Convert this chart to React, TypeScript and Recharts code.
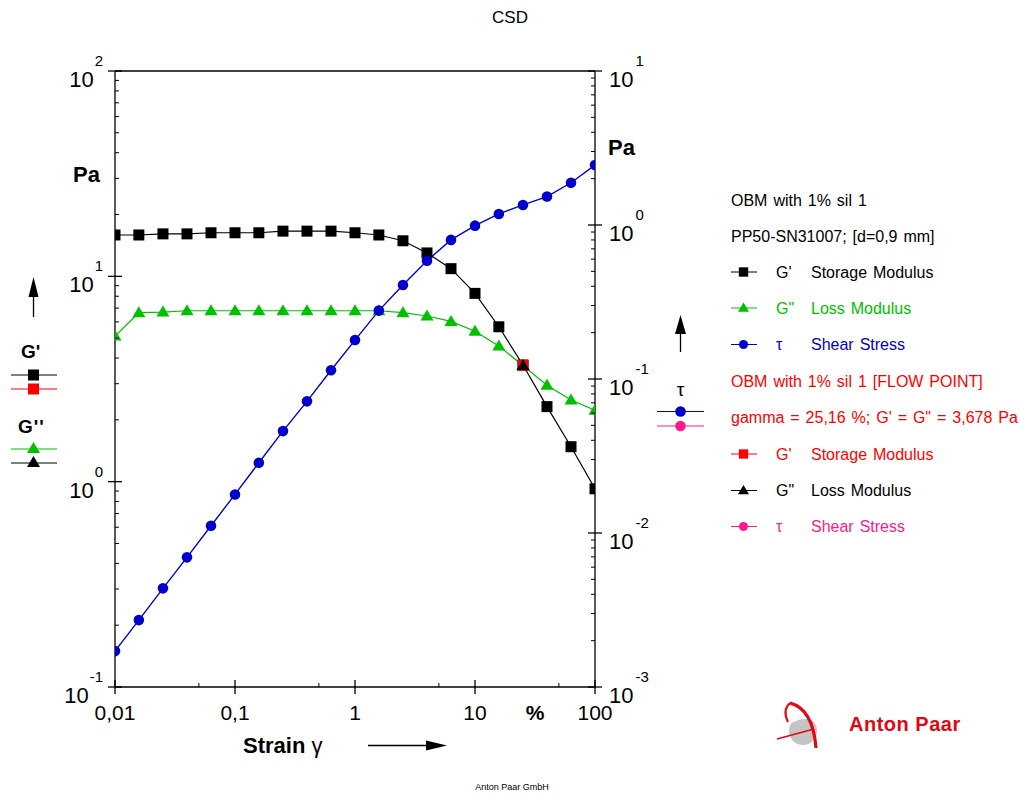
import React from 'react';
import { ComposedChart, Line, Scatter, XAxis, YAxis, ReferenceLine } from 'recharts';

const strain = [0.01, 0.0158, 0.0251, 0.0398, 0.0631, 0.1, 0.158, 0.251, 0.398, 0.631, 1, 1.58, 2.51, 3.98, 6.31, 10, 15.8, 25.1, 39.8, 63.1, 100];
const storageModulus = [15.9, 15.9, 16.1, 16.1, 16.3, 16.3, 16.3, 16.6, 16.6, 16.6, 16.3, 15.9, 14.9, 13.0, 10.9, 8.26, 5.68, 3.7, 2.32, 1.48, 0.923];
const lossModulus = [5.12, 6.65, 6.7, 6.8, 6.8, 6.8, 6.8, 6.8, 6.8, 6.8, 6.8, 6.8, 6.65, 6.41, 6.03, 5.4, 4.58, 3.68, 2.95, 2.5, 2.23];
const shearStress = [0.00171, 0.00272, 0.00437, 0.00695, 0.01115, 0.0178, 0.0286, 0.0459, 0.0716, 0.114, 0.179, 0.278, 0.408, 0.586, 0.8, 0.99, 1.18, 1.35, 1.53, 1.88, 2.45];

const flowStrain = [25.16];
const flowStorage = [3.678];
const flowLoss = [3.678];

const xTicks = [0.01, 0.05, 0.1, 0.5, 1, 5, 10, 50, 100];
const xTickLabels: Record<string, string> = { '0.01': '0,01', '0.1': '0,1', '1': '1', '10': '10', '100': '100' };
const leftTicks = [0.1, 0.2, 0.3, 0.4, 0.5, 0.6, 0.7, 0.8, 0.9, 1, 2, 3, 4, 5, 6, 7, 8, 9, 10, 20, 30, 40, 50, 60, 70, 80, 90, 100];
const rightTicks = [0.001, 0.002, 0.003, 0.004, 0.005, 0.006, 0.007, 0.008, 0.009, 0.01, 0.02, 0.03, 0.04, 0.05, 0.06, 0.07, 0.08, 0.09, 0.1, 0.2, 0.3, 0.4, 0.5, 0.6, 0.7, 0.8, 0.9, 1, 2, 3, 4, 5, 6, 7, 8, 9, 10];

const data = strain.map((s, i) => ({ strain: s, gp: storageModulus[i], gpp: lossModulus[i], tau: shearStress[i] }));
const flowGp = flowStrain.map((s, i) => ({ strain: s, v: flowStorage[i] }));
const flowGpp = flowStrain.map((s, i) => ({ strain: s, v: flowLoss[i] }));

const FONT = '"Liberation Sans", Arial, sans-serif';
const BLACK = '#000000';
const GREEN = '#00c000';
const BLUE = '#0000cc';
const RED = '#ff0000';
const PINK = '#ff1a8c';
const LOGO_RED = '#e30613';

const isMajor = (v: number) => Math.abs(Math.log10(v) - Math.round(Math.log10(v))) < 1e-6;

const LeftTick = (props: any) => {
  const { x, y, payload } = props;
  const v = payload.value;
  if (!isMajor(v)) return <line x1={x} x2={x + 4} y1={y} y2={y} stroke={BLACK} strokeWidth={1} />;
  const e = Math.round(Math.log10(v));
  return (
    <g>
      <line x1={x - 7} x2={x + 7} y1={y} y2={y} stroke={BLACK} strokeWidth={1.3} />
      <text x={x - 12} y={y + 16} textAnchor="end" fontFamily={FONT} fontSize={22} fill={BLACK}>
        10<tspan dy={-21} dx={1} fontSize={15}>{e}</tspan>
      </text>
    </g>
  );
};

const RightTick = (props: any) => {
  const { x, y, payload } = props;
  const v = payload.value;
  if (!isMajor(v)) return <line x1={x - 4} x2={x} y1={y} y2={y} stroke={BLACK} strokeWidth={1} />;
  const e = Math.round(Math.log10(v));
  return (
    <g>
      <line x1={x - 7} x2={x + 7} y1={y} y2={y} stroke={BLACK} strokeWidth={1.3} />
      <text x={x + 14} y={y + 16} textAnchor="start" fontFamily={FONT} fontSize={22} fill={BLACK}>
        10<tspan dy={-21} dx={2} fontSize={15}>{e}</tspan>
      </text>
    </g>
  );
};

const BottomTick = (props: any) => {
  const { x, y, payload } = props;
  const v = payload.value;
  if (!isMajor(v)) return <line x1={x} x2={x} y1={y - 4} y2={y} stroke={BLACK} strokeWidth={1} />;
  const label = xTickLabels[String(v)];
  return (
    <g>
      <line x1={x} x2={x} y1={y - 7} y2={y + 7} stroke={BLACK} strokeWidth={1.3} />
      <text x={x} y={y + 33} textAnchor="middle" fontFamily={FONT} fontSize={21} fill={BLACK}>{label}</text>
    </g>
  );
};

const Square = ({ cx, cy, fill }: any) =>
  cx == null || cy == null ? null : <rect x={cx - 5.5} y={cy - 5.5} width={11} height={11} fill={fill} />;
const Triangle = ({ cx, cy, fill }: any) =>
  cx == null || cy == null ? null : <polygon points={`${cx},${cy - 6.5} ${cx - 6.5},${cy + 4.5} ${cx + 6.5},${cy + 4.5}`} fill={fill} />;
const Circle = ({ cx, cy, fill }: any) =>
  cx == null || cy == null ? null : <circle cx={cx} cy={cy} r={5.3} fill={fill} />;

const squareDot = (color: string) => (p: any) => <Square key={`s${p.index}`} cx={p.cx} cy={p.cy} fill={color} />;
const triDot = (color: string) => (p: any) => <Triangle key={`t${p.index}`} cx={p.cx} cy={p.cy} fill={color} />;
const circDot = (color: string) => (p: any) => <Circle key={`c${p.index}`} cx={p.cx} cy={p.cy} fill={color} />;

type Row = { y: number; color: string; text?: string; sym?: string; name?: string; marker?: 'square' | 'tri' | 'circle'; mcolor?: string };
const legendRows: Row[] = [
  { y: 205.5, color: BLACK, text: 'OBM with 1% sil 1' },
  { y: 241.5, color: BLACK, text: 'PP50-SN31007; [d=0,9 mm]' },
  { y: 277.5, color: BLACK, sym: "G'", name: 'Storage Modulus', marker: 'square', mcolor: BLACK },
  { y: 313.5, color: GREEN, sym: 'G"', name: 'Loss Modulus', marker: 'tri', mcolor: GREEN },
  { y: 350, color: BLUE, sym: 'τ', name: 'Shear Stress', marker: 'circle', mcolor: BLUE },
  { y: 386.5, color: RED, text: 'OBM with 1% sil 1 [FLOW POINT]' },
  { y: 423, color: RED, text: 'gamma = 25,16 %; G\' = G" = 3,678 Pa' },
  { y: 459.5, color: RED, sym: "G'", name: 'Storage Modulus', marker: 'square', mcolor: RED },
  { y: 496, color: BLACK, sym: 'G"', name: 'Loss Modulus', marker: 'tri', mcolor: BLACK },
  { y: 532, color: PINK, sym: 'τ', name: 'Shear Stress', marker: 'circle', mcolor: PINK },
];

const marker = (kind: string, cx: number, cy: number, color: string, scale = 0.8) => {
  if (kind === 'square') return <rect x={cx - 5.5 * scale} y={cy - 5.5 * scale} width={11 * scale} height={11 * scale} fill={color} />;
  if (kind === 'tri') return <polygon points={`${cx},${cy - 6.5 * scale} ${cx - 6.5 * scale},${cy + 4.5 * scale} ${cx + 6.5 * scale},${cy + 4.5 * scale}`} fill={color} />;
  return <circle cx={cx} cy={cy} r={5.3 * scale} fill={color} />;
};

const Overlay = () => (
  <svg width={1020} height={797} style={{ position: 'absolute', left: 0, top: 0, pointerEvents: 'none' }}>
    <text x={510} y={23} textAnchor="middle" fontFamily={FONT} fontSize={17} fill={BLACK}>CSD</text>
    {/* Left axis labels */}
    <text x={73} y={182} fontFamily={FONT} fontSize={22} fontWeight="bold" fill={BLACK}>Pa</text>
    <line x1={33.5} x2={33.5} y1={296} y2={317} stroke={BLACK} strokeWidth={1.3} />
    <polygon points="33.5,277 28.5,297 38.5,297" fill={BLACK} />
    <text x={21} y={358} fontFamily={FONT} fontSize={19} fontWeight="bold" fill={BLACK}>G'</text>
    <line x1={11} x2={57} y1={375} y2={375} stroke={BLACK} strokeWidth={1.2} />
    {marker('square', 33.5, 375, BLACK, 1)}
    <line x1={11} x2={57} y1={389} y2={389} stroke={RED} strokeWidth={1.2} />
    {marker('square', 33.5, 389, RED, 1)}
    <text x={18} y={433} fontFamily={FONT} fontSize={19} fontWeight="bold" fill={BLACK} letterSpacing={1}>G''</text>
    <line x1={11} x2={57} y1={449} y2={449} stroke={GREEN} strokeWidth={1.2} />
    {marker('tri', 33.5, 448.5, GREEN, 1)}
    <line x1={11} x2={57} y1={463} y2={463} stroke={BLACK} strokeWidth={1.2} />
    {marker('tri', 33.5, 462.5, BLACK, 1)}
    {/* Right axis labels */}
    <text x={608} y={155} fontFamily={FONT} fontSize={22} fontWeight="bold" fill={BLACK}>Pa</text>
    <line x1={680.5} x2={680.5} y1={332} y2={352} stroke={BLACK} strokeWidth={1.3} />
    <polygon points="680.5,315 675,334 686,334" fill={BLACK} />
    <text x={680.5} y={396} textAnchor="middle" fontFamily={FONT} fontSize={19} fill={BLACK}>τ</text>
    <line x1={657} x2={704} y1={411.5} y2={411.5} stroke={BLUE} strokeWidth={1.2} />
    {marker('circle', 680.5, 411.5, BLUE, 1)}
    <line x1={657} x2={704} y1={426} y2={426} stroke={PINK} strokeWidth={1.2} />
    {marker('circle', 680.5, 426, PINK, 1)}
    {/* X axis labels */}
    <text x={535} y={720} textAnchor="middle" fontFamily={FONT} fontSize={21} fontWeight="bold" fill={BLACK}>%</text>
    <text x={243} y={753} fontFamily={FONT} fontSize={22} fontWeight="bold" fill={BLACK}>Strain <tspan fontWeight="normal">γ</tspan></text>
    <line x1={368} x2={428} y1={745.5} y2={745.5} stroke={BLACK} strokeWidth={1.3} />
    <polygon points="447,745.5 426,740.5 426,750.5" fill={BLACK} />
    <text x={512} y={790} textAnchor="middle" fontFamily={FONT} fontSize={9} fill={BLACK}>Anton Paar GmbH</text>
    {/* Legend */}
    {legendRows.map((r, i) => (
      <g key={i}>
        {r.text ? (
          <text x={731} y={r.y} fontFamily={FONT} fontSize={16} fill={r.color} wordSpacing={1.5}>{r.text}</text>
        ) : (
          <g>
            <line x1={731} x2={757} y1={r.y - 5.5} y2={r.y - 5.5} stroke={r.mcolor} strokeWidth={1} />
            {marker(r.marker as string, 743.5, r.y - 5.5, r.mcolor as string, 0.85)}
            <text x={776} y={r.y} fontFamily={FONT} fontSize={16} fill={r.color}>{r.sym}</text>
            <text x={811} y={r.y} fontFamily={FONT} fontSize={16} fill={r.color} wordSpacing={1.5}>{r.name}</text>
          </g>
        )}
      </g>
    ))}
    {/* Logo */}
    <circle cx={803} cy={731} r={14} fill="#c4c4c4" />
    <path d="M 792 722 Q 801 716 812 719" stroke="#ffffff" strokeWidth={2} fill="none" />
    <path d="M 790 703 Q 813 709 816 748" stroke={LOGO_RED} strokeWidth={3.2} fill="none" />
    <path d="M 790 703 Q 782 710 788 722" stroke={LOGO_RED} strokeWidth={2} fill="none" />
    <path d="M 777 739 L 814 729" stroke={LOGO_RED} strokeWidth={1.5} fill="none" />
    <text x={849} y={731} fontFamily={FONT} fontSize={20} fontWeight="bold" fill={LOGO_RED} letterSpacing={0.5}>Anton Paar</text>
  </svg>
);

export default function App() {
  return (
    <div style={{ position: 'absolute', left: 0, top: 0, width: 1020, height: 797, background: '#ffffff' }}>
      <ComposedChart width={1020} height={797} data={data} margin={{ top: 71, right: 365, bottom: 70, left: 55 }}>
        <XAxis
          dataKey="strain"
          type="number"
          scale="log"
          domain={[0.01, 100]}
          ticks={xTicks}
          interval={0}
          tickSize={0}
          tickMargin={0}
          tickLine={false}
          tick={BottomTick}
          height={40}
          axisLine={{ stroke: BLACK, strokeWidth: 1.3 }}
          allowDataOverflow
        />
        <YAxis
          yAxisId="left"
          orientation="left"
          type="number"
          scale="log"
          domain={[0.1, 100]}
          ticks={leftTicks}
          interval={0}
          tickSize={0}
          tickMargin={0}
          tickLine={false}
          tick={LeftTick}
          width={60}
          axisLine={{ stroke: BLACK, strokeWidth: 1.3 }}
          allowDataOverflow
        />
        <YAxis
          yAxisId="right"
          orientation="right"
          type="number"
          scale="log"
          domain={[0.001, 10]}
          ticks={rightTicks}
          interval={0}
          tickSize={0}
          tickMargin={0}
          tickLine={false}
          tick={RightTick}
          width={60}
          axisLine={{ stroke: BLACK, strokeWidth: 1.3 }}
          allowDataOverflow
        />
        <ReferenceLine yAxisId="left" y={100} stroke={BLACK} strokeWidth={1.3} />
        <Line yAxisId="left" type="linear" dataKey="gpp" stroke={GREEN} strokeWidth={1.2} dot={triDot(GREEN)} activeDot={false} isAnimationActive={false} />
        <Line yAxisId="left" type="linear" dataKey="gp" stroke={BLACK} strokeWidth={1.2} dot={squareDot(BLACK)} activeDot={false} isAnimationActive={false} />
        <Line yAxisId="right" type="linear" dataKey="tau" stroke={BLUE} strokeWidth={1.4} dot={circDot(BLUE)} activeDot={false} isAnimationActive={false} />
        <Scatter yAxisId="left" data={flowGp} dataKey="v" shape={(p: any) => <Square cx={p.cx} cy={p.cy} fill={RED} />} isAnimationActive={false} />
        <Scatter yAxisId="left" data={flowGpp} dataKey="v" shape={(p: any) => <Triangle cx={p.cx} cy={p.cy} fill={BLACK} />} isAnimationActive={false} />
      </ComposedChart>
      <Overlay />
    </div>
  );
}
